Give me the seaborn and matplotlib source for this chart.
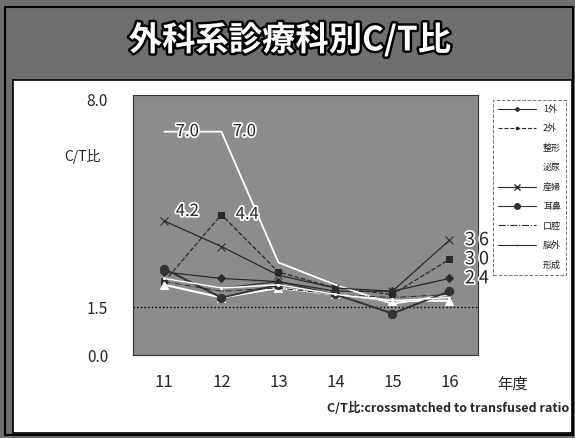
import matplotlib
matplotlib.use("Agg")
import matplotlib.pyplot as plt
import matplotlib.patheffects as pe
from matplotlib.patches import Rectangle
from matplotlib.lines import Line2D
import seaborn as sns
import pandas as pd

sns.set_theme(style="white")
plt.rcParams["font.family"] = ["Noto Sans CJK JP", "DejaVu Sans"]

# 年度 (H11〜H16)
years = [11, 12, 13, 14, 15, 16]

# 診療科別 C/T比
ct_1gai = [2.6, 2.4, 2.3, 2.0, 2.0, 2.4]
ct_2gai = [2.3, 4.4, 2.6, 2.1, 1.9, 3.0]
ct_seikei = [2.2, 1.8, 2.1, 1.9, 1.7, 1.7]
ct_hinyo = [7.0, 7.0, 2.9, 2.2, 1.6, 1.9]
ct_sanpu = [4.2, 3.4, 2.5, 2.1, 2.0, 3.6]
ct_jibi = [2.7, 1.8, 2.2, 1.9, 1.3, 2.0]
ct_koku = [2.3, 2.0, 2.1, 1.9, 1.8, 1.9]
ct_nogai = [2.4, 2.1, 2.3, 1.9, 1.7, 1.8]
ct_keisei = [2.4, 2.1, 2.2, 1.9, 1.7, 1.8]

departments = ["1外", "2外", "整形", "泌尿", "産婦", "耳鼻", "口腔", "脳外", "形成"]
series = [ct_1gai, ct_2gai, ct_seikei, ct_hinyo, ct_sanpu, ct_jibi, ct_koku, ct_nogai, ct_keisei]

# 表示スタイル (色, 線種, マーカー, 線幅, マーカーサイズ)
styles = {
    "1外": ("#2a2a2a", "-", "D", 0.9, 4),
    "2外": ("#2a2a2a", "--", "s", 0.9, 4),
    "整形": ("white", "-", "^", 1.5, 6),
    "泌尿": ("white", "-", "", 1.3, 0),
    "産婦": ("#2a2a2a", "-", "x", 0.9, 6),
    "耳鼻": ("#333333", "-", "o", 1.4, 6),
    "口腔": ("#2a2a2a", "-.", "", 0.7, 0),
    "脳外": ("#2a2a2a", "-", "_", 0.8, 4),
    "形成": ("white", "-", ".", 1.1, 3),
}

df = pd.DataFrame(
    [(d, y, v) for d, vals in zip(departments, series) for y, v in zip(years, vals)],
    columns=["科", "年度", "CT"],
)

W, H = 575, 438
fig = plt.figure(figsize=(W / 100, H / 100), dpi=100)
fig.patch.set_facecolor("#6f6f6f")

# 白い本文領域と外枠
fig.patches.append(Rectangle((13 / W, 1 - 433 / H), (572 - 13) / W, (433 - 80) / H,
                             transform=fig.transFigure, facecolor="white",
                             edgecolor="black", linewidth=1.2, zorder=-2))
fig.patches.append(Rectangle((5 / W, 1 - 435 / H), (573 - 5) / W, (435 - 7) / H,
                             transform=fig.transFigure, facecolor="none",
                             edgecolor="black", linewidth=1.5, zorder=-1))

fig.text(290 / W, 1 - 40 / H, "外科系診療科別C/T比", color="white", fontsize=24,
         fontweight="bold", ha="center", va="center",
         path_effects=[pe.withStroke(linewidth=3.5, foreground="black")])

ax = fig.add_axes([133 / W, 1 - 355 / H, 345 / W, 260 / H])
ax.set_zorder(2)
ax.set_facecolor("#8c8c8c")

for dept in departments:
    color, ls, mk, lw, ms = styles[dept]
    sub = df[df["科"] == dept]
    sns.lineplot(data=sub, x="年度", y="CT", ax=ax, color=color, linestyle=ls,
                 marker=mk if mk else None, markersize=ms, linewidth=lw,
                 markeredgecolor=color, legend=False, zorder=3)

ax.axhline(1.5, color="black", linestyle=":", linewidth=1.0, zorder=2)

ax.set_xlim(10.45, 16.5)
ax.set_ylim(0, 8.15)
ax.set_xticks(years)
ax.set_xticklabels([str(y) for y in years], fontsize=12)
ax.set_yticks([0.0, 1.5, 8.0])
ax.set_yticklabels(["0.0", "1.5", "8.0"], fontsize=11)
ax.tick_params(axis="x", pad=14, length=0)
ax.tick_params(axis="y", pad=18, length=0)
ax.set_xlabel("")
ax.set_ylabel("")
for s in ax.spines.values():
    s.set_visible(True)
    s.set_color("#333333")
    s.set_linewidth(0.8)

# 値ラベル
halo = [pe.withStroke(linewidth=2.5, foreground="white")]
ax.text(years[0] + 0.2, ct_hinyo[0], f"{ct_hinyo[0]:.1f}", fontsize=12, va="center",
        path_effects=halo, zorder=5)
ax.text(years[1] + 0.2, ct_hinyo[1], f"{ct_hinyo[1]:.1f}", fontsize=12, va="center",
        path_effects=halo, zorder=5)
ax.text(years[0] + 0.2, ct_sanpu[0] + 0.3, f"{ct_sanpu[0]:.1f}", fontsize=12, va="center",
        path_effects=halo, zorder=5)
ax.text(years[1] + 0.25, ct_2gai[1], f"{ct_2gai[1]:.1f}", fontsize=12, va="center",
        path_effects=halo, zorder=5)
for vals in (ct_sanpu, ct_2gai, ct_1gai):
    ax.text(years[5] + 0.27, vals[5], f"{vals[5]:.1f}".replace(".", " "), fontsize=13,
            va="center", path_effects=halo, zorder=5, clip_on=False)

fig.text(64 / W, 1 - 157 / H, "C/T比", fontsize=10, va="center", ha="left")
fig.text(497 / W, 1 - 384 / H, "年度", fontsize=11, va="center", ha="left")
fig.text(569 / W, 1 - 408 / H, "C/T比:crossmatched to transfused ratio", fontsize=9,
         fontweight="bold", va="center", ha="right")

handles = []
for dept in departments:
    color, ls, mk, lw, ms = styles[dept]
    handles.append(Line2D([], [], color=color, linestyle=ls, marker=mk if mk else None,
                          markersize=max(ms - 2, 0), linewidth=0.8,
                          markeredgecolor=color))
leg = fig.legend(handles, departments, loc="upper left",
                 bbox_to_anchor=(488 / W, 1 - 95 / H), fontsize=6.5, frameon=True,
                 handlelength=4.2, labelspacing=1.15, borderpad=0.6,
                 fancybox=False, edgecolor="#555555")
leg.get_frame().set_linestyle("--")
leg.get_frame().set_linewidth(0.7)

fig.savefig("out.png", dpi=100, facecolor=fig.get_facecolor())
